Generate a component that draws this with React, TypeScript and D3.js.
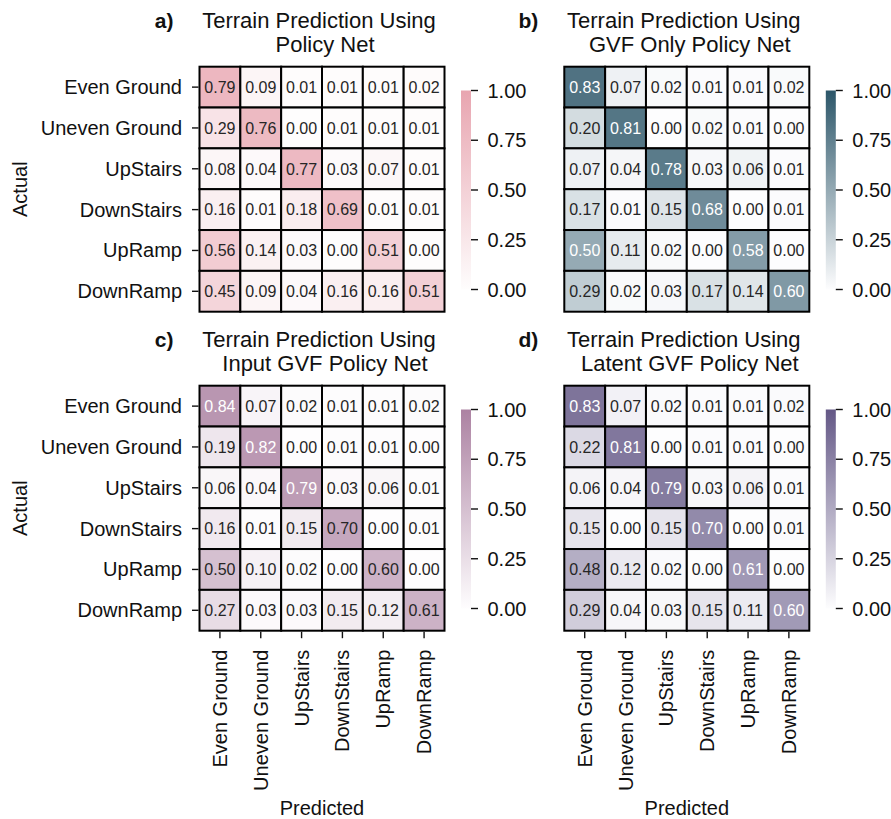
import * as d3 from 'd3'

const terrains = ['Even Ground', 'Uneven Ground', 'UpStairs', 'DownStairs', 'UpRamp', 'DownRamp']

const policyNet = [
  [0.79, 0.09, 0.01, 0.01, 0.01, 0.02],
  [0.29, 0.76, 0.0, 0.01, 0.01, 0.01],
  [0.08, 0.04, 0.77, 0.03, 0.07, 0.01],
  [0.16, 0.01, 0.18, 0.69, 0.01, 0.01],
  [0.56, 0.14, 0.03, 0.0, 0.51, 0.0],
  [0.45, 0.09, 0.04, 0.16, 0.16, 0.51],
]

const gvfOnlyNet = [
  [0.83, 0.07, 0.02, 0.01, 0.01, 0.02],
  [0.2, 0.81, 0.0, 0.02, 0.01, 0.0],
  [0.07, 0.04, 0.78, 0.03, 0.06, 0.01],
  [0.17, 0.01, 0.15, 0.68, 0.0, 0.01],
  [0.5, 0.11, 0.02, 0.0, 0.58, 0.0],
  [0.29, 0.02, 0.03, 0.17, 0.14, 0.6],
]

const inputGvfNet = [
  [0.84, 0.07, 0.02, 0.01, 0.01, 0.02],
  [0.19, 0.82, 0.0, 0.01, 0.01, 0.0],
  [0.06, 0.04, 0.79, 0.03, 0.06, 0.01],
  [0.16, 0.01, 0.15, 0.7, 0.0, 0.01],
  [0.5, 0.1, 0.02, 0.0, 0.6, 0.0],
  [0.27, 0.03, 0.03, 0.15, 0.12, 0.61],
]

const latentGvfNet = [
  [0.83, 0.07, 0.02, 0.01, 0.01, 0.02],
  [0.22, 0.81, 0.0, 0.01, 0.01, 0.0],
  [0.06, 0.04, 0.79, 0.03, 0.06, 0.01],
  [0.15, 0.0, 0.15, 0.7, 0.0, 0.01],
  [0.48, 0.12, 0.02, 0.0, 0.61, 0.0],
  [0.29, 0.04, 0.03, 0.15, 0.11, 0.6],
]

const colorbarTicks = [0, 0.25, 0.5, 0.75, 1]

const panels = [
  { letter: 'a)', title: ['Terrain Prediction Using', 'Policy Net'], values: policyNet, dark: '#e8a5b0', light: '#fefdfd', col: 0, row: 0 },
  { letter: 'b)', title: ['Terrain Prediction Using', 'GVF Only Policy Net'], values: gvfOnlyNet, dark: '#2c5669', light: '#fdfdfe', col: 1, row: 0 },
  { letter: 'c)', title: ['Terrain Prediction Using', 'Input GVF Policy Net'], values: inputGvfNet, dark: '#ac82a2', light: '#fefdfe', col: 0, row: 1 },
  { letter: 'd)', title: ['Terrain Prediction Using', 'Latent GVF Policy Net'], values: latentGvfNet, dark: '#645886', light: '#fdfdfe', col: 1, row: 1 },
]

const gridLeft = [199.5, 564.3]
const gridTop = [66.7, 385.7]
const gridSize = 245
const font = '"Liberation Sans", Arial, sans-serif'
const ink = '#111'

// seaborn's rule for picking annotation colour
function luminance(c: string) {
  const rgb = d3.rgb(c)
  const lin = [rgb.r, rgb.g, rgb.b].map((v) => {
    const s = v / 255
    return s <= 0.03928 ? s / 12.92 : Math.pow((s + 0.055) / 1.055, 2.4)
  })
  return 0.2126 * lin[0] + 0.7152 * lin[1] + 0.0722 * lin[2]
}

function Panel({ p }: { p: (typeof panels)[number] }) {
  const left = gridLeft[p.col]
  const top = gridTop[p.row]
  const x = d3.scaleBand().domain(terrains).range([left, left + gridSize])
  const y = d3.scaleBand().domain(terrains).range([top, top + gridSize])
  const color = d3.scaleLinear<string>().domain([0, 1]).range([p.light, p.dark]).interpolate(d3.interpolateRgb)
  const cx = left + gridSize / 2
  const titleY = top - 38.4

  const cbLeft = left + 261.5
  const cbW = 10
  const cbMid = top + gridSize / 2 + 0.8
  const cb = d3.scaleLinear().domain([0, 1]).range([cbMid + 99.5, cbMid - 99.5])
  const gradId = `grad-${p.letter[0]}`
  const fmt = d3.format('.2f')

  return (
    <g>
      <text x={left - 26} y={titleY} textAnchor="end" fontSize={21} fontWeight="bold" fill={ink}>
        {p.letter}
      </text>
      <text x={cx - 3} y={titleY} textAnchor="middle" fontSize={22} fill={ink}>
        {p.title[0]}
      </text>
      <text x={cx + 3} y={titleY + 23.5} textAnchor="middle" fontSize={22} fill={ink}>
        {p.title[1]}
      </text>

      {p.values.map((rowVals, ri) =>
        rowVals.map((v, ci) => {
          const fill = color(v)
          return (
            <g key={`${ri}-${ci}`}>
              <rect
                x={x(terrains[ci])}
                y={y(terrains[ri])}
                width={x.bandwidth()}
                height={y.bandwidth()}
                fill={fill}
                stroke="#000"
                strokeWidth={2}
              />
              <text
                x={(x(terrains[ci]) as number) + x.bandwidth() / 2}
                y={(y(terrains[ri]) as number) + y.bandwidth() / 2}
                dy="0.36em"
                textAnchor="middle"
                fontSize={16}
                fill={luminance(fill) > 0.408 ? '#262626' : '#fff'}
              >
                {fmt(v)}
              </text>
            </g>
          )
        })
      )}

      {p.col === 0 && (
        <g>
          {terrains.map((t) => {
            const ty = (y(t) as number) + y.bandwidth() / 2
            return (
              <g key={t}>
                <line x1={left - 7.5} x2={left - 1} y1={ty} y2={ty} stroke={ink} strokeWidth={1.4} />
                <text x={left - 17.5} y={ty} dy="0.35em" textAnchor="end" fontSize={20} fill={ink}>
                  {t}
                </text>
              </g>
            )
          })}
          <text transform={`translate(27,${top + gridSize / 2}) rotate(-90)`} textAnchor="middle" fontSize={20} fill={ink}>
            Actual
          </text>
        </g>
      )}

      {p.row === 1 && (
        <g>
          {terrains.map((t) => {
            const tx = (x(t) as number) + x.bandwidth() / 2
            const base = top + gridSize
            return (
              <g key={t}>
                <line x1={tx} x2={tx} y1={base + 1} y2={base + 7.5} stroke={ink} strokeWidth={1.4} />
                <text transform={`translate(${tx},${base + 19}) rotate(-90)`} dy="0.35em" textAnchor="end" fontSize={20} fill={ink}>
                  {t}
                </text>
              </g>
            )
          })}
          <text x={cx} y={top + gridSize + 184} textAnchor="middle" fontSize={20} fill={ink}>
            Predicted
          </text>
        </g>
      )}

      <defs>
        <linearGradient id={gradId} x1="0" y1="1" x2="0" y2="0">
          <stop offset="0" stopColor={p.light} />
          <stop offset="1" stopColor={p.dark} />
        </linearGradient>
      </defs>
      <rect x={cbLeft} y={cb(1)} width={cbW} height={cb(0) - cb(1)} fill={`url(#${gradId})`} />
      {colorbarTicks.map((t) => (
        <g key={t}>
          <line x1={cbLeft + cbW} x2={cbLeft + cbW + 7} y1={cb(t)} y2={cb(t)} stroke={ink} strokeWidth={1.4} />
          <text x={cbLeft + cbW + 16.5} y={cb(t)} dy="0.35em" fontSize={20} fill={ink}>
            {fmt(t)}
          </text>
        </g>
      ))}
    </g>
  )
}

export default function App() {
  return (
    <svg
      width={891}
      height={819}
      style={{ position: 'absolute', left: 0, top: 0, background: '#fff', fontFamily: font }}
    >
      <rect width={891} height={819} fill="#fff" />
      {panels.map((p) => (
        <Panel key={p.letter} p={p} />
      ))}
    </svg>
  )
}
